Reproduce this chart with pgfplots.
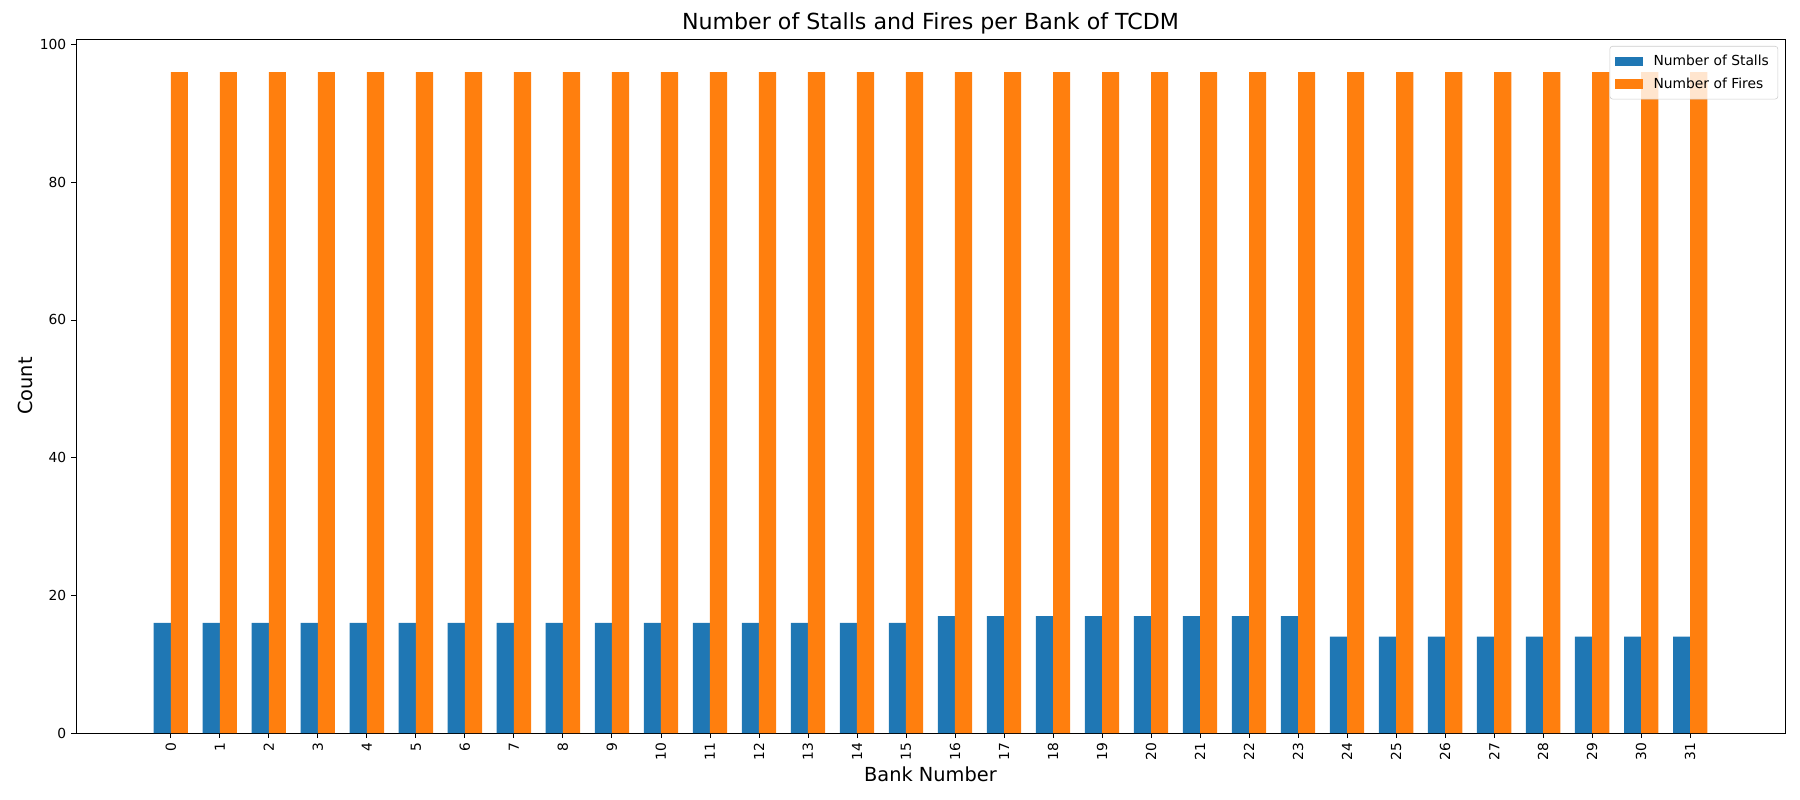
\documentclass[border=0pt]{standalone}
\usepackage{pgfplots}
\pgfplotsset{compat=1.18}
\usepackage{fontspec}
\setmainfont{DejaVu Sans}
\definecolor{mblue}{HTML}{1F77B4}
\definecolor{morange}{HTML}{FF7F0E}
\begin{document}
\begin{tikzpicture}
\useasboundingbox (-54.7bp,-48.2bp) rectangle (1241.3bp,527.8bp);
\begin{axis}[
  at={(0,0)}, anchor=south west,
  scale only axis,
  width=1230.5bp, height=499.7bp,
  xmin=-1.935, xmax=32.935,
  ymin=0, ymax=100.8,
  xtick={0,...,31},
  ytick={0,20,40,60,80,100},
  x tick label style={rotate=90, anchor=east, font=\fontsize{10}{12}\selectfont},
  y tick label style={font=\fontsize{10}{12}\selectfont},
  /pgf/number format/assume math mode=true,
  tick align=outside,
  xtick pos=bottom, ytick pos=left,
  major tick length=3.5bp,
  tick style={black, line width=0.6pt},
  axis line style={line width=0.6pt},
  title={Number of Stalls and Fires per Bank of TCDM},
  title style={font=\fontsize{16}{19}\selectfont, yshift=-6bp},
  xlabel={Bank Number},
  ylabel={Count},
  xlabel style={font=\fontsize{14}{17}\selectfont, yshift=2bp},
  ylabel style={font=\fontsize{14}{17}\selectfont, yshift=-2bp},
  legend style={at={(0.996,0.99)}, anchor=north east, draw=black!20, rounded corners=2pt, font=\fontsize{10}{12}\selectfont, fill=white, fill opacity=0.8, text opacity=1, row sep=2pt, inner sep=4pt, nodes={inner sep=2.5pt}},
  legend cell align=left,
  legend image code/.code={\fill[#1, fill opacity=1, sharp corners] (0bp,-3.5bp) rectangle (20bp,3.5bp); \path (25bp,0bp);},
]
\addplot[ybar, bar width=0.35, bar shift=-0.175, fill=mblue, draw=none] table {
x y
0 16
1 16
2 16
3 16
4 16
5 16
6 16
7 16
8 16
9 16
10 16
11 16
12 16
13 16
14 16
15 16
16 17
17 17
18 17
19 17
20 17
21 17
22 17
23 17
24 14
25 14
26 14
27 14
28 14
29 14
30 14
31 14
};
\addlegendentry{Number of Stalls}
\addplot[ybar, bar width=0.35, bar shift=0.175, fill=morange, draw=none] table {
x y
0 96
1 96
2 96
3 96
4 96
5 96
6 96
7 96
8 96
9 96
10 96
11 96
12 96
13 96
14 96
15 96
16 96
17 96
18 96
19 96
20 96
21 96
22 96
23 96
24 96
25 96
26 96
27 96
28 96
29 96
30 96
31 96
};
\addlegendentry{Number of Fires}
\end{axis}
\end{tikzpicture}
\end{document}
